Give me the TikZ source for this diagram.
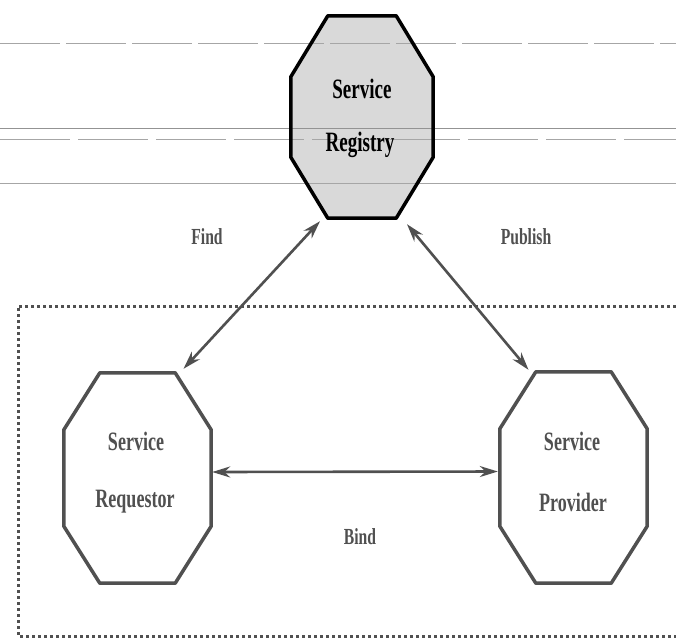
\documentclass[tikz,border=0pt]{standalone}
\usepackage{fontspec}
\usetikzlibrary{arrows.meta}
\newfontfamily\condfont[FakeStretch=0.68]{Liberation Serif}
\definecolor{ink}{HTML}{505050}
\newcommand\myoct[4][]{%
  \draw[octline,#1] ([xshift=#3]#2.north west) -- ([xshift=-#3]#2.north east)
    -- ([yshift=-#4]#2.north east) -- ([yshift=#4]#2.south east)
    -- ([xshift=-#3]#2.south east) -- ([xshift=#3]#2.south west)
    -- ([yshift=#4]#2.south west) -- ([yshift=-#4]#2.north west) -- cycle;}
\tikzset{
  box/.style={rectangle, inner sep=0pt},
  octline/.style={draw=ink, line width=3.5pt, line join=round},
  lbl/.style={font=\condfont\bfseries\fontsize{26.5}{28}\selectfont, text=ink},
  small/.style={font=\condfont\bfseries\fontsize{23}{25}\selectfont, text=ink},
  arr/.style={draw=ink, line width=2.6pt, {Stealth[length=18pt,width=11pt]}-{Stealth[length=18pt,width=11pt]}},
  scan/.style={draw=gray!70, line width=0.8pt}
}
\begin{document}
\begin{tikzpicture}[x=1pt,y=-1pt]
\useasboundingbox (0,0) rectangle (676,643);
\fill[white] (0,0) rectangle (676,643);
% nodes (frames)
\node[box, minimum width=142pt, minimum height=202pt] (reg) at (362,117) {};
\node[box, minimum width=147pt, minimum height=210pt] (req) at (137.5,478) {};
\node[box, minimum width=147pt, minimum height=211pt] (prov) at (573.5,477.5) {};
% registry fill
\myoct[draw=none, fill=gray!30]{reg}{37pt}{61pt}
% scan lines
\draw[scan, dash pattern=on 60pt off 6pt] (0,43) -- (676,43);
\draw[scan, draw=gray!85] (0,128) -- (676,128);
\draw[scan, dash pattern=on 70pt off 8pt] (0,139) -- (676,139);
\draw[scan] (0,183) -- (676,183);
% dotted box
\draw[draw=ink, line width=3pt, dash pattern=on 3pt off 3pt] (676,306) -- (18,306) -- (18,636) -- (676,636);
% octagons
\myoct[draw=black]{reg}{37pt}{61pt}
\myoct{req}{36pt}{57pt}
\myoct{prov}{36pt}{57pt}
% texts
\node[lbl, text=black, font=\condfont\bfseries\fontsize{28}{30}\selectfont] (t1) at (362,89) {Service};
\node[lbl, text=black, font=\condfont\bfseries\fontsize{28}{30}\selectfont] (t2) at (360,145) {Registry};
\node[lbl] (t3) at (136,441) {Service};
\node[lbl] (t4) at (135,502) {Requestor};
\node[lbl] (t5) at (572,441) {Service};
\node[lbl] (t6) at (573,502) {Provider};
% connectors
\draw[arr] ([xshift=46pt,yshift=4pt]req.north) -- ([xshift=-42pt,yshift=-3pt]reg.south);
\draw[arr] ([xshift=45pt,yshift=-6pt]reg.south) -- ([xshift=-45pt,yshift=2pt]prov.north);
\draw[arr] ([yshift=6pt,xshift=1pt]req.east) -- ([yshift=6pt,xshift=-2pt]prov.west);
% labels
\node[small] (find) at (207,237) {Find};
\node[small] (pub) at (526,237) {Publish};
\node[small] (bind) at (360,537) {Bind};
\end{tikzpicture}
\end{document}
